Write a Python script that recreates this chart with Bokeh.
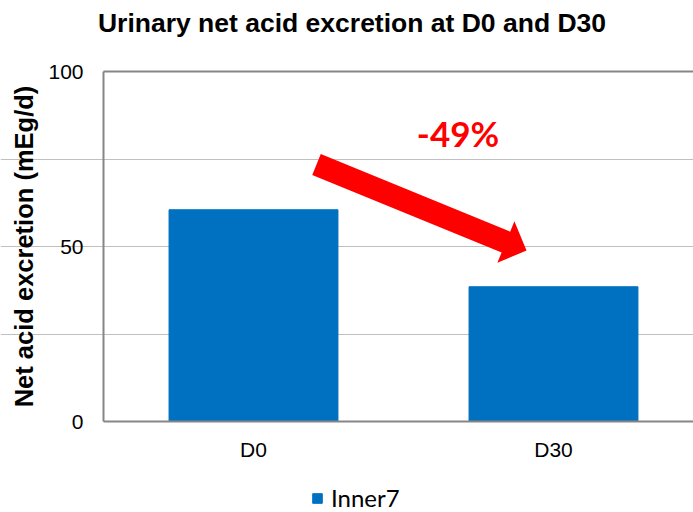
import math
from bokeh.plotting import figure
from bokeh.models import (Range1d, FixedTicker, LinearAxis, Label, Legend, LegendItem,
                          ColumnDataSource)
from bokeh.embed import file_html
from bokeh.resources import INLINE

# ---- data ----
categories = ["D0", "D30"]
values = [60.5, 38.5]
series_name = "Inner7"
y_ticks = [0, 50, 100]
y_grid = [25, 50, 75]
y_max = 100
change_label = "-49%"
title_text = "Urinary net acid excretion at D0 and D30"
y_label = "Net acid excretion (mEg/d)"

# ---- layout (pixels) ----
W, H = 693, 512
PL = 103                 # plot-area left edge (pixels)
py_zero, py_top = 421.0, 71.0   # pixel rows of value 0 and 100
ky = (py_zero - py_top) / 100.0
kx = 300.0               # pixels per category
x0 = 0.5 - PL / kx
x1 = x0 + W / kx
y0 = -(H - py_zero) / ky
y1 = py_zero / ky

def dx(px):
    return x0 + px / kx

def dy(py):
    return (py_zero - py) / ky

xs = [i + 1 for i in range(len(categories))]
src = ColumnDataSource(dict(x=xs, value=values, cat=categories))

p = figure(width=W, height=H, x_range=Range1d(x0, x1), y_range=Range1d(y0, y1),
           output_backend="svg", toolbar_location=None,
           min_border_left=0, min_border_right=0, min_border_top=0,
           min_border_bottom=0)
p.outline_line_color = None
p.background_fill_color = "white"
p.border_fill_color = "white"

p.xgrid.visible = False
p.ygrid.ticker = FixedTicker(ticks=y_grid)
p.ygrid.grid_line_color = "#c0c0c0"
p.ygrid.grid_line_width = 1
p.ygrid.bounds = (dx(PL), x1)

AX = "#868686"
TF = "Liberation Sans"

bars = p.vbar(x="x", top="value", width=0.563, source=src,
              fill_color="#0070C0", line_color="#0070C0")

# bottom (category) axis
xa = p.below[0]
xa.fixed_location = 0
xa.bounds = (dx(PL), x1)
xa.ticker = FixedTicker(ticks=xs)
xa.major_label_overrides = {x: c for x, c in zip(xs, categories)}
xa.axis_line_color = AX
xa.axis_line_width = 2
xa.major_tick_line_color = None
xa.minor_tick_line_color = None
xa.major_label_text_font = TF
xa.major_label_text_font_size = "21px"
xa.major_label_text_color = "black"
xa.major_label_standoff = 10

# value axis
ya = p.left[0]
ya.fixed_location = dx(PL)
ya.ticker = FixedTicker(ticks=y_ticks)
ya.bounds = (0, y_max)
ya.axis_line_color = AX
ya.axis_line_width = 2
ya.major_tick_line_color = None
ya.minor_tick_line_color = None
ya.major_label_text_font = TF
ya.major_label_text_font_size = "21px"
ya.major_label_text_color = "black"
ya.major_label_standoff = 14

# top border of the plot area: a label-less axis line at 100
top_axis = LinearAxis(fixed_location=y_max, bounds=(dx(PL), x1),
                      ticker=FixedTicker(ticks=[]),
                      axis_line_color=AX, axis_line_width=2,
                      major_tick_line_color=None, minor_tick_line_color=None,
                      major_label_text_font_size="0px")
p.add_layout(top_axis, "above")

# y-axis title
p.add_layout(Label(x=dx(23), y=dy(246), text=y_label, angle=math.pi / 2,
                   text_font=TF, text_font_style="bold", text_font_size="25.5px",
                   text_color="black", text_align="center", text_baseline="middle"))

# chart title
p.add_layout(Label(x=dx(351.5), y=dy(22), text=title_text,
                   text_font=TF, text_font_style="bold", text_font_size="26.5px",
                   text_color="black", text_align="center", text_baseline="alphabetic"))

# change annotation
p.add_layout(Label(x=dx(457.5), y=dy(132), text=change_label,
                   text_font="Lato", text_font_style="bold", text_font_size="35px",
                   text_color="#FF0000", text_align="center", text_baseline="alphabetic"))

# arrow polygon (geometry in pixels, converted to data)
tail = (dx(316), dy(164))
tip = (dx(526), dy(250))
dxp = (tip[0] - tail[0]) * kx
dyp = (tip[1] - tail[1]) * ky
L = math.hypot(dxp, dyp)
ux, uy = dxp / L, dyp / L
nx, ny = -uy, ux
hs, hh, hl = 11.25, 22.5, 22.3
def pt(a, b):
    return (tail[0] + (a * ux + b * nx) / kx, tail[1] + (a * uy + b * ny) / ky)
pts = [pt(0, hs), pt(L - hl, hs), pt(L - hl, hh), pt(L, 0),
       pt(L - hl, -hh), pt(L - hl, -hs), pt(0, -hs)]
p.patch([q[0] for q in pts], [q[1] for q in pts], fill_color="#FF0000", line_color=None)

legend = Legend(items=[LegendItem(label=series_name, renderers=[bars])],
                location=(311, 0), orientation="horizontal",
                glyph_width=12, glyph_height=12, label_standoff=8,
                padding=0, margin=0, border_line_color=None,
                background_fill_alpha=0,
                label_text_font="Lato", label_text_font_size="24px",
                label_text_color="black")
p.add_layout(legend)

open("out.html", "w").write(file_html(p, INLINE))
